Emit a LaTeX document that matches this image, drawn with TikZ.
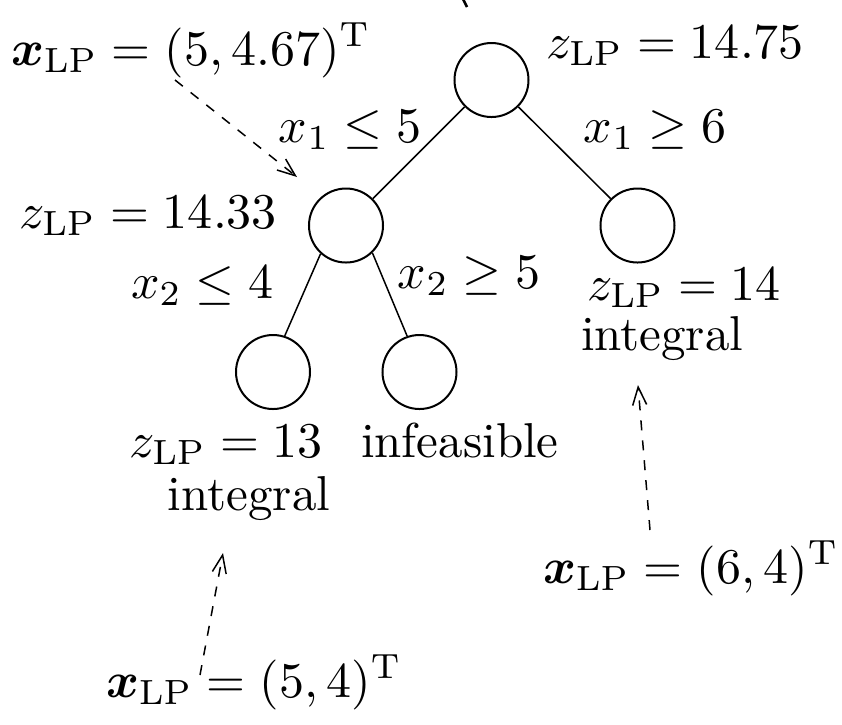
\documentclass[tikz,border=0pt]{standalone}
\usepackage{amsmath}
\usepackage{bm}
\usetikzlibrary{arrows.meta}
\begin{document}
\begin{tikzpicture}[x=0.2pt,y=-0.2pt,
  vtx/.style={circle,draw,line width=0.4pt,minimum size=14.8pt,inner sep=0pt},
  lbl/.style={inner sep=0pt,anchor=base west,font=\fontsize{9.8}{12}\selectfont},
  edge/.style={line width=0.3pt},
  ptr/.style={line width=0.3pt,dash pattern=on 2pt off 2pt,-{Straight Barb[length=3.6pt,width=2.8pt]}}
]
\useasboundingbox (0,0) rectangle (842,724);
% tree nodes
\node[vtx] (root) at (491.5,80) {};
\node[vtx] (lc) at (346,225.5) {};
\node[vtx] (rc) at (637.5,225.5) {};
\node[vtx] (ll) at (273,372) {};
\node[vtx] (lr) at (419.5,372) {};
% edges
\draw[edge] (root.225) -- (lc.45);
\draw[edge] (root.315) -- (rc.135);
\draw[edge] (lc.228) -- (ll.72);
\draw[edge] (lc.314) -- (lr.109);
% labels
\node[lbl] (xa) at (10,65) {$\bm{x}_{\mathrm{LP}}=(5,4.67)^{\mathrm{T}}$};
\node[lbl] (zr) at (545,58) {$z_{\mathrm{LP}}=14.75$};
\node[lbl] (b1) at (278,142) {$x_1\leq 5$};
\node[lbl] (b2) at (583,142) {$x_1\geq 6$};
\node[lbl] (zl) at (18,228) {$z_{\mathrm{LP}}=14.33$};
\node[lbl] (b3) at (130,298) {$x_2\leq 4$};
\node[lbl] (b4) at (397,288) {$x_2\geq 5$};
\node[lbl] (zrc) at (586,300) {$z_{\mathrm{LP}}=14$};
\node[lbl] (irc) at (580,350) {integral};
\node[lbl] (zll) at (128,457) {$z_{\mathrm{LP}}=13$};
\node[lbl] (inf) at (360,457) {infeasible};
\node[lbl] (ill) at (167,510) {integral};
\node[lbl] (xb) at (542,583) {$\bm{x}_{\mathrm{LP}}=(6,4)^{\mathrm{T}}$};
\node[lbl] (xc) at (105,697) {$\bm{x}_{\mathrm{LP}}=(5,4)^{\mathrm{T}}$};
% pointer arrows
\coordinate (p1s) at (175,80);
\coordinate (p1e) at (297,177);
\coordinate (p2s) at (650,530);
\coordinate (p2e) at (638,385);
\coordinate (p3s) at (200,675);
\coordinate (p3e) at (223,553);
\draw[ptr] (p1s) -- (p1e);
\draw[ptr] (p2s) -- (p2e);
\draw[ptr] (p3s) -- (p3e);
% fragment of an arrow cut off at the top
\coordinate (t1) at (462,-3);
\coordinate (t2) at (467,7);
\draw[line width=0.5pt] (t1) -- (t2);
\end{tikzpicture}
\end{document}
